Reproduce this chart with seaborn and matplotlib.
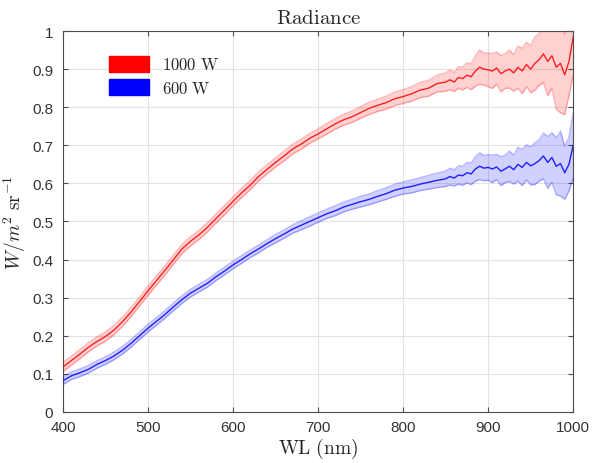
import numpy as np
import pandas as pd
import matplotlib
matplotlib.use("Agg")
import matplotlib.pyplot as plt
import seaborn as sns
from matplotlib.patches import Patch

wl = [400, 410, 420, 430, 440, 450, 460, 470, 480, 490,
      500, 510, 520, 530, 540, 550, 560, 570, 580, 590,
      600, 610, 620, 630, 640, 650, 660, 670, 680, 690,
      700, 710, 720, 730, 740, 750, 760, 770, 780, 790,
      800, 810, 820, 830, 840, 850,
      855, 860, 865, 870, 875, 880, 885, 890, 895, 900,
      905, 910, 915, 920, 925, 930, 935, 940, 945, 950,
      955, 960, 965, 970, 975, 980, 985, 990, 995, 1000]

red_mean = [0.118, 0.135, 0.152, 0.170, 0.185, 0.198, 0.215, 0.237, 0.262, 0.290,
            0.318, 0.345, 0.372, 0.400, 0.428, 0.448, 0.465, 0.485, 0.508, 0.530,
            0.553, 0.575, 0.595, 0.618, 0.637, 0.655, 0.672, 0.690, 0.703, 0.718,
            0.730, 0.743, 0.756, 0.767, 0.775, 0.786, 0.797, 0.805, 0.812, 0.822,
            0.828, 0.835, 0.845, 0.850, 0.862, 0.866,
            0.872, 0.866, 0.878, 0.875, 0.884, 0.880, 0.895, 0.905, 0.900, 0.898,
            0.895, 0.903, 0.888, 0.895, 0.900, 0.890, 0.905, 0.895, 0.912, 0.900,
            0.915, 0.925, 0.940, 0.920, 0.935, 0.905, 0.915, 0.885, 0.920, 0.985]

red_half = [0.012, 0.012, 0.012, 0.012, 0.012, 0.012, 0.012, 0.012, 0.012, 0.012,
            0.012, 0.012, 0.012, 0.012, 0.012, 0.012, 0.012, 0.012, 0.012, 0.012,
            0.012, 0.012, 0.012, 0.012, 0.012, 0.012, 0.013, 0.013, 0.013, 0.013,
            0.013, 0.014, 0.014, 0.014, 0.015, 0.015, 0.016, 0.016, 0.017, 0.018,
            0.018, 0.019, 0.020, 0.021, 0.022, 0.024,
            0.026, 0.025, 0.028, 0.030, 0.032, 0.034, 0.040, 0.045, 0.042, 0.044,
            0.046, 0.042, 0.048, 0.045, 0.050, 0.048, 0.055, 0.060, 0.058, 0.062,
            0.070, 0.068, 0.075, 0.090, 0.085, 0.110, 0.130, 0.105, 0.090, 0.100]

blue_mean = [0.082, 0.095, 0.103, 0.112, 0.125, 0.135, 0.147, 0.162, 0.180, 0.200,
             0.220, 0.238, 0.256, 0.276, 0.295, 0.312, 0.325, 0.338, 0.355, 0.370,
             0.386, 0.400, 0.415, 0.428, 0.442, 0.455, 0.467, 0.480, 0.490, 0.500,
             0.510, 0.520, 0.528, 0.538, 0.545, 0.552, 0.558, 0.566, 0.573, 0.582,
             0.588, 0.592, 0.598, 0.603, 0.608, 0.612,
             0.618, 0.614, 0.622, 0.620, 0.628, 0.625, 0.638, 0.645, 0.640, 0.642,
             0.638, 0.643, 0.632, 0.638, 0.645, 0.636, 0.650, 0.642, 0.655, 0.646,
             0.652, 0.660, 0.672, 0.655, 0.668, 0.645, 0.652, 0.628, 0.650, 0.700]

blue_half = [0.010, 0.010, 0.010, 0.010, 0.010, 0.010, 0.010, 0.010, 0.010, 0.010,
             0.010, 0.010, 0.010, 0.010, 0.010, 0.010, 0.010, 0.010, 0.010, 0.010,
             0.010, 0.010, 0.010, 0.010, 0.010, 0.011, 0.011, 0.011, 0.012, 0.012,
             0.012, 0.012, 0.013, 0.013, 0.013, 0.014, 0.014, 0.015, 0.015, 0.016,
             0.016, 0.017, 0.017, 0.018, 0.019, 0.020,
             0.022, 0.021, 0.024, 0.025, 0.027, 0.028, 0.032, 0.035, 0.033, 0.034,
             0.036, 0.033, 0.038, 0.036, 0.040, 0.038, 0.044, 0.048, 0.046, 0.050,
             0.055, 0.054, 0.060, 0.068, 0.065, 0.075, 0.085, 0.070, 0.070, 0.085]

series_names = ["1000 W", "600 W"]
colors = ["#ff0000", "#0000ff"]

sns.set_style("white")
plt.rcParams["mathtext.fontset"] = "cm"
plt.rcParams["font.family"] = ["Liberation Sans", "DejaVu Sans"]

fig = plt.figure(figsize=(5.94, 4.64), dpi=100)
ax = fig.add_axes([0.106, 0.110, 0.859, 0.821])

wl_arr = np.array(wl)
for name, mean, half, col in [(series_names[0], red_mean, red_half, colors[0]),
                              (series_names[1], blue_mean, blue_half, colors[1])]:
    m = np.array(mean)
    h = np.array(half)
    ax.fill_between(wl_arr, m - h, m + h, color=col, alpha=0.18, linewidth=0, zorder=2)
    ax.plot(wl_arr, m - h, color=col, alpha=0.28, linewidth=1.0, zorder=3)
    ax.plot(wl_arr, m + h, color=col, alpha=0.28, linewidth=1.0, zorder=3)
    df = pd.DataFrame({"wl": wl_arr, "val": m})
    sns.lineplot(data=df, x="wl", y="val", color=col, linewidth=1.0, alpha=0.85,
                 ax=ax, zorder=4)

ax.set_xlim(400, 1000)
ax.set_ylim(0, 1)
ax.set_xticks(np.arange(400, 1001, 100))
ax.set_yticks(np.arange(0, 1.01, 0.1))
ax.set_yticklabels(["0"] + [f"{v:.1f}" for v in np.arange(0.1, 0.95, 0.1)] + ["1"])
ax.grid(True, color="#e3e3e3", linewidth=0.8, zorder=0)
ax.set_axisbelow(True)
for s in ax.spines.values():
    s.set_color("#4d4d4d")
    s.set_linewidth(0.8)
ax.tick_params(direction="in", length=3.5, width=0.8, color="#4d4d4d",
               labelcolor="#333333", labelsize=11, top=True, right=True,
               bottom=True, left=True)
ax.tick_params(axis="x", pad=6)
ax.tick_params(axis="y", pad=7)

ax.set_title(r"$\mathrm{Radiance}$", fontsize=15, pad=6)
ax.set_xlabel(r"$\mathrm{WL\ (nm)}$", fontsize=14, labelpad=1)
ax.set_ylabel(r"$W/m^2\ \mathrm{sr}^{-1}$", fontsize=14, labelpad=3)

handles = [Patch(facecolor=colors[0], edgecolor=colors[0]),
           Patch(facecolor=colors[1], edgecolor=colors[1])]
labels = [r"$\mathrm{1000\ W}$", r"$\mathrm{600\ W}$"]
ax.legend(handles, labels, loc="upper left", frameon=False, fontsize=12,
          handlelength=2.4, handleheight=1.1, bbox_to_anchor=(0.06, 0.975),
          labelspacing=0.4)

fig.savefig("out.png", dpi=100)
